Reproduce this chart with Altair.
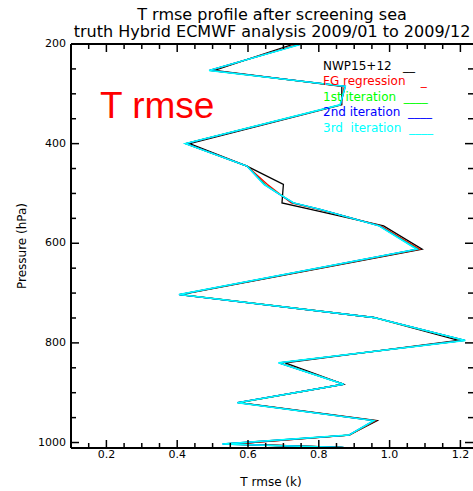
import altair as alt
import pandas as pd

# Pressure levels (hPa) of the profile
pressure = [200, 253, 285, 322, 400, 445, 482, 500, 519, 532, 565, 612,
            703, 749, 795, 840, 883, 920, 956, 985, 1003, 1010, 1011]

# Temperature RMSE (K) for each experiment
nwp15_12 = [0.73, 0.505, 0.865, 0.865, 0.435, 0.597, 0.70, 0.698, 0.696, 0.777, 0.983, 1.092,
            0.41, 0.955, 1.195, 0.705, 0.87, 0.575, 0.965, 0.885, 0.555, 0.865, 1.10]
fg_regression = [0.745, 0.495, 0.872, 0.862, 0.425, 0.597, 0.655, 0.688, 0.722, 0.80, 0.975, 1.085,
                 0.407, 0.955, 1.21, 0.69, 0.87, 0.572, 0.96, 0.887, 0.555, 0.868, 1.30]
iteration_1 = [0.75, 0.492, 0.874, 0.861, 0.424, 0.597, 0.648, 0.686, 0.727, 0.803, 0.972, 1.08,
               0.406, 0.955, 1.212, 0.688, 0.87, 0.571, 0.957, 0.886, 0.53, 0.87, 1.30]
iteration_2 = [0.751, 0.491, 0.875, 0.861, 0.424, 0.597, 0.646, 0.685, 0.728, 0.804, 0.971, 1.078,
               0.405, 0.955, 1.213, 0.687, 0.87, 0.570, 0.956, 0.885, 0.528, 0.87, 1.30]
iteration_3 = [0.752, 0.49, 0.875, 0.86, 0.423, 0.597, 0.645, 0.685, 0.729, 0.804, 0.97, 1.077,
               0.405, 0.955, 1.214, 0.686, 0.87, 0.57, 0.955, 0.885, 0.527, 0.87, 1.30]

NB = "\u00a0"
series_names = ["NWP15+12", "FG regression", "1st iteration", "2nd iteration", "3rd" + NB + NB + "iteration"]
series_values = [nwp15_12, fg_regression, iteration_1, iteration_2, iteration_3]
series_colors = ["#000000", "#ff0000", "#00ff00", "#0000ff", "#00ffff"]
legend_samples = [NB * 3 + "__", NB * 4 + "_", NB * 2 + "____", NB * 2 + "____", NB * 2 + "____"]

# Axis ranges, ticks and tick labels
X_DOMAIN = [0.1, 1.2356]
P_DOMAIN = [200, 1011]
x_major = [0.2, 0.4, 0.6, 0.8, 1.0, 1.2]
x_labels = ["0.2", "0.4", "0.6", "0.8", "1.0", "1.2"]
x_minor = [0.15, 0.25, 0.3, 0.35, 0.45, 0.5, 0.55, 0.65, 0.7, 0.75,
           0.85, 0.9, 0.95, 1.05, 1.1, 1.15]
y_major = [200, 400, 600, 800, 1000]
y_labels = ["200", "400", "600", "800", "1000"]
y_minor = [250, 300, 350, 450, 500, 550, 650, 700, 750, 850, 900, 950]

rows = []
for name, vals in zip(series_names, series_values):
    for i, (p, v) in enumerate(zip(pressure, vals)):
        rows.append({"series": name, "idx": i, "pressure": p, "rmse": v})
df = pd.DataFrame(rows)

W, H = 402, 404
FONT = "DejaVu Sans"
MAJOR, MINOR = 8, 5
X_PER_PX = (X_DOMAIN[1] - X_DOMAIN[0]) / W
P_PER_PX = (P_DOMAIN[1] - P_DOMAIN[0]) / H
xs = alt.Scale(domain=X_DOMAIN, nice=False, zero=False)
ys = alt.Scale(domain=P_DOMAIN, reverse=True, nice=False, zero=False)


def X(field):
    return alt.X(field, scale=xs, axis=None)


def Y(field):
    return alt.Y(field, scale=ys, axis=None)


layers = []

# profiles (cyan drawn last, on top)
widths = [1.3, 1.3, 1.3, 1.3, 1.5]
for name, color, w in zip(series_names, series_colors, widths):
    layers.append(
        alt.Chart(df).transform_filter(alt.datum.series == name)
        .mark_line(color=color, strokeWidth=w, clip=True)
        .encode(x=X("rmse:Q"), y=Y("pressure:Q"), order="idx:Q")
    )


# inward tick marks: short two-point segments running in from each edge
def xticks(values, size):
    out = []
    for edge, sign in ((P_DOMAIN[1], -1), (P_DOMAIN[0], 1)):
        out.append(
            alt.Chart(pd.DataFrame({"v": values}))
            .transform_calculate(a=f"{edge}", b=f"{edge + sign * size * P_PER_PX}")
            .transform_fold(["a", "b"], as_=["end", "p"])
            .mark_line(color="black", strokeWidth=1.5)
            .encode(x=X("v:Q"), y=Y("p:Q"), detail="v:Q")
        )
    return out


def yticks(values, size):
    out = []
    for edge, sign in ((X_DOMAIN[0], 1), (X_DOMAIN[1], -1)):
        out.append(
            alt.Chart(pd.DataFrame({"v": values}))
            .transform_calculate(a=f"{edge}", b=f"{edge + sign * size * X_PER_PX}")
            .transform_fold(["a", "b"], as_=["end", "x"])
            .mark_line(color="black", strokeWidth=1.5)
            .encode(x=X("x:Q"), y=Y("v:Q"), detail="v:Q")
        )
    return out


layers += xticks(x_major, MAJOR) + xticks(x_minor, MINOR)
layers += yticks(y_major, MAJOR) + yticks(y_minor, MINOR)

# frame along the bottom, top and left edges
edges = [
    pd.DataFrame({"x": X_DOMAIN, "p": [P_DOMAIN[1], P_DOMAIN[1]]}),
    pd.DataFrame({"x": X_DOMAIN, "p": [P_DOMAIN[0], P_DOMAIN[0]]}),
    pd.DataFrame({"x": [X_DOMAIN[0], X_DOMAIN[0]], "p": P_DOMAIN}),
]
for e in edges:
    layers.append(
        alt.Chart(e).mark_line(color="black", strokeWidth=2)
        .encode(x=X("x:Q"), y=Y("p:Q"))
    )

# tick labels
layers.append(
    alt.Chart(pd.DataFrame({"v": x_major, "t": x_labels})).mark_text(
        align="center", baseline="middle", font=FONT, fontSize=11, color="black"
    ).encode(x=X("v:Q"), y=alt.value(H + 7), text="t:N")
)
layers.append(
    alt.Chart(pd.DataFrame({"v": y_major, "t": y_labels})).mark_text(
        align="right", baseline="middle", font=FONT, fontSize=11, color="black"
    ).encode(y=Y("v:Q"), x=alt.value(-5), text="t:N")
)

# axis titles
layers.append(
    alt.Chart(pd.DataFrame({"t": ["T rmse (k)"]})).mark_text(
        align="center", baseline="middle", font=FONT, fontSize=12, color="black"
    ).encode(x=alt.value(200), y=alt.value(H + 34), text="t:N")
)
layers.append(
    alt.Chart(pd.DataFrame({"t": ["Pressure (hPa)"]})).mark_text(
        align="center", baseline="middle", font=FONT, fontSize=12, color="black", angle=270
    ).encode(x=alt.value(-49), y=alt.value(H / 2), text="t:N")
)

# legend text
for i, (name, color, sample) in enumerate(zip(series_names, series_colors, legend_samples)):
    layers.append(
        alt.Chart(pd.DataFrame({"t": [name + sample]})).mark_text(
            align="left", baseline="alphabetic", font=FONT, fontSize=12, color=color
        ).encode(x=alt.value(252), y=alt.value(25.5 + 15.5 * i), text="t:N")
    )

# big label
layers.append(
    alt.Chart(pd.DataFrame({"t": ["T rmse"]})).mark_text(
        align="left", baseline="alphabetic", font="Liberation Sans", fontSize=37, color="#ff0000"
    ).encode(x=alt.value(29), y=alt.value(74), text="t:N")
)

chart = alt.layer(*layers).properties(
    width=W,
    height=H,
    title=alt.TitleParams(
        text=["T rmse profile after screening sea",
              "truth Hybrid ECMWF analysis 2009/01 to 2009/12"],
        font=FONT, fontSize=16, fontWeight="normal", color="black",
        anchor="middle", offset=-2, lineHeight=17.5,
    ),
    padding={"left": 71, "top": 44, "right": 0, "bottom": 43},
    autosize=alt.AutoSizeParams(type="none"),
).configure_view(stroke=None).configure(background="white")

chart.save("out.html", embed_options={"renderer": "svg", "actions": False})
